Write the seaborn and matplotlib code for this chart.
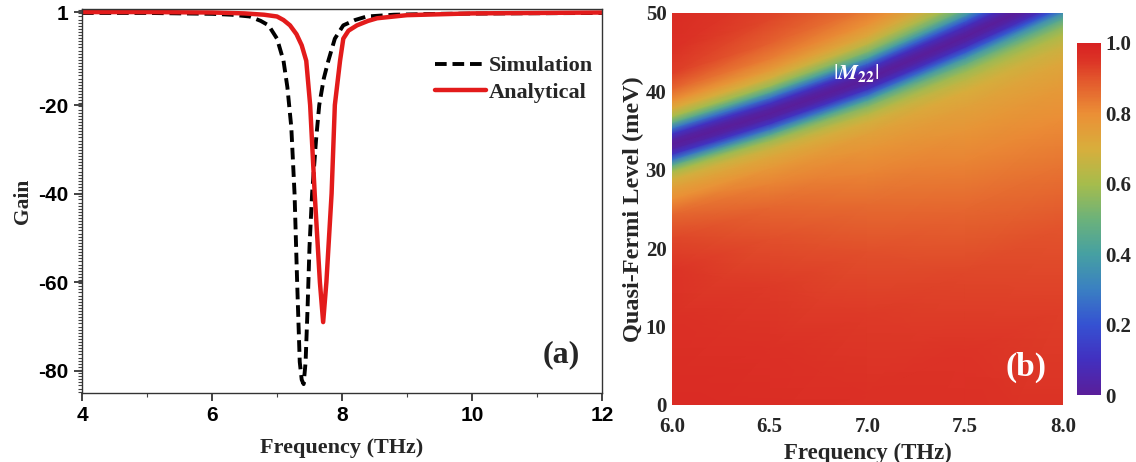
import numpy as np
import matplotlib
matplotlib.use('Agg')
import matplotlib.pyplot as plt
import seaborn as sns
import pandas as pd
from matplotlib.colors import LinearSegmentedColormap
from matplotlib.ticker import MultipleLocator
from matplotlib.lines import Line2D

# ---------------- data : panel (a) ----------------
sim_freq = [4.0, 5.0, 6.0, 6.3, 6.58, 6.75, 6.87, 7.0, 7.1, 7.16, 7.22, 7.27, 7.31, 7.35,
            7.38, 7.41, 7.44, 7.47, 7.5, 7.54, 7.6, 7.65, 7.72, 7.79, 7.89, 8.02, 8.2,
            8.38, 8.8, 9.5, 10.5, 12.0]
sim_gain = [0.8, 0.8, 0.6, 0.4, 0.0, -1.0, -2.0, -5.0, -10.0, -16.0, -25.0, -40.0, -60.0, -78.0,
            -82.0, -83.0, -78.0, -66.0, -52.0, -40.0, -28.0, -20.0, -14.0, -10.0, -5.0, -2.0, -0.8,
            0.0, 0.4, 0.6, 0.7, 0.8]
ana_freq = [4.0, 5.0, 6.0, 6.5, 6.8, 7.0, 7.1, 7.2, 7.3, 7.38, 7.45, 7.51, 7.58, 7.66, 7.71,
            7.76, 7.84, 7.89, 7.97, 8.02, 8.1, 8.23, 8.4, 8.54, 9.0, 10.0, 12.0]
ana_gain = [1.0, 1.0, 0.9, 0.7, 0.4, 0.0, -0.8, -2.0, -4.0, -6.5, -10.0, -20.0, -40.0, -60.0, -69.0,
            -60.0, -40.0, -20.0, -10.0, -5.0, -3.2, -2.0, -1.0, -0.4, 0.3, 0.7, 0.9]
series_names = ['Simulation', 'Analytical']
x_ticks_a = [4, 6, 8, 10, 12]
y_ticks_a = [1, -20, -40, -60, -80]

# ---------------- data : panel (b) ----------------
heat_freq = [6.0, 6.5, 7.0, 7.5, 8.0]            # THz (columns)
band_center = [33.3, 37.2, 41.6, 47.0, 52.8]     # meV, centre of the |M22| minimum
band_offset = [-60, -40, -30, -22, -16, -12, -9, -7, -5.5, -4.5, -3.5, -2.7, -2.0, -1.3, -0.6, 0,
               0.6, 1.3, 2.0, 2.7, 3.5, 4.5, 5.5, 7, 9, 12, 16, 25]   # meV from band centre
m22_values = [
    [0.98, 0.98, 0.98, 0.98, 0.97],
    [0.98, 0.97, 0.96, 0.95, 0.93],
    [0.97, 0.96, 0.94, 0.92, 0.90],
    [0.96, 0.94, 0.91, 0.87, 0.84],
    [0.95, 0.91, 0.86, 0.82, 0.80],
    [0.92, 0.87, 0.82, 0.78, 0.76],
    [0.87, 0.82, 0.78, 0.74, 0.72],
    [0.80, 0.77, 0.74, 0.70, 0.67],
    [0.74, 0.72, 0.69, 0.64, 0.61],
    [0.69, 0.67, 0.63, 0.58, 0.55],
    [0.60, 0.58, 0.54, 0.48, 0.44],
    [0.46, 0.44, 0.41, 0.36, 0.33],
    [0.28, 0.27, 0.25, 0.22, 0.20],
    [0.11, 0.11, 0.10, 0.09, 0.08],
    [0.03, 0.03, 0.03, 0.03, 0.03],
    [0.00, 0.00, 0.00, 0.00, 0.00],
    [0.03, 0.03, 0.03, 0.03, 0.03],
    [0.11, 0.11, 0.10, 0.09, 0.08],
    [0.28, 0.27, 0.25, 0.22, 0.20],
    [0.46, 0.44, 0.41, 0.36, 0.33],
    [0.60, 0.58, 0.54, 0.49, 0.45],
    [0.71, 0.69, 0.65, 0.59, 0.55],
    [0.79, 0.76, 0.72, 0.66, 0.62],
    [0.87, 0.83, 0.79, 0.74, 0.71],
    [0.93, 0.88, 0.84, 0.80, 0.77],
    [0.96, 0.92, 0.89, 0.86, 0.84],
    [0.97, 0.95, 0.93, 0.90, 0.88],
    [0.98, 0.97, 0.96, 0.94, 0.92],
]
x_ticks_b = [6.0, 6.5, 7.0, 7.5, 8.0]
y_ticks_b = [0, 10, 20, 30, 40, 50]
cbar_ticks = [0, 0.2, 0.4, 0.6, 0.8, 1.0]
cbar_labels = ['0', '0.2', '0.4', '0.6', '0.8', '1.0']

# ---------------- style ----------------
sns.set_style('ticks')
plt.rcParams['font.family'] = ['Liberation Serif', 'DejaVu Serif']
plt.rcParams['mathtext.fontset'] = 'stix'
plt.rcParams['axes.unicode_minus'] = False
SERIF = ['Liberation Serif', 'DejaVu Serif']
SANS = ['Liberation Sans', 'DejaVu Sans']

fig = plt.figure(figsize=(11.36, 4.62), dpi=100)
fig.patch.set_facecolor('white')

# ---------------- panel (a) ----------------
ax = fig.add_axes([0.0722, 0.1494, 0.4577, 0.8312])
df_sim = pd.DataFrame({'f': sim_freq, 'g': sim_gain})
df_ana = pd.DataFrame({'f': ana_freq, 'g': ana_gain})
sns.lineplot(data=df_sim, x='f', y='g', ax=ax, color='black', lw=2.8,
             estimator=None, sort=False)
ax.lines[-1].set_dashes((3.0, 1.5))
sns.lineplot(data=df_ana, x='f', y='g', ax=ax, color='#e31b1b', lw=3.2,
             estimator=None, sort=False)
ax.set_xlim(4, 12)
ax.set_ylim(-85, 1.7)
ax.set_xticks(x_ticks_a)
ax.set_yticks(y_ticks_a)
ax.xaxis.set_minor_locator(MultipleLocator(1))
ax.yaxis.set_minor_locator(MultipleLocator(0.7))
ax.tick_params(axis='both', which='major', direction='out', length=6, width=1.2,
               colors='#222222', labelsize=15, top=False, right=False)
ax.tick_params(axis='both', which='minor', direction='out', length=3, width=0.8,
               colors='#444444', top=False, right=False)
for lab in ax.get_xticklabels() + ax.get_yticklabels():
    lab.set_family(SANS)
    lab.set_fontweight('bold')
    lab.set_color('black')
for s in ax.spines.values():
    s.set_linewidth(1.0)
    s.set_color('#333333')
ax.set_xlabel('Frequency (THz)', fontsize=16, fontweight='bold', family=SERIF, labelpad=9)
ax.set_ylabel('Gain', fontsize=15.5, fontweight='bold', family=SERIF, labelpad=4)
handles = [Line2D([], [], color='black', lw=2.8, dashes=(3.0, 1.5)),
           Line2D([], [], color='#e31b1b', lw=3.2)]
ax.legend(handles, series_names, loc='upper left', bbox_to_anchor=(0.64, 0.93),
          frameon=False, handlelength=2.3, handletextpad=0.15, labelspacing=0.25,
          prop={'family': SERIF, 'weight': 'bold', 'size': 16})
ax.text(11.38, -76.4, '(a)', fontsize=23, fontweight='bold', family=SERIF,
        ha='center', va='center')

# ---------------- panel (b) ----------------
colors = [(0.0, '#5a1e9a'), (0.1, '#4230c0'), (0.2, '#3552d2'), (0.3, '#3a80c2'),
          (0.4, '#46a0a2'), (0.5, '#6cb27a'), (0.6, '#a6bc4c'), (0.7, '#d8ae3c'),
          (0.8, '#eb8f36'), (0.9, '#e2552c'), (0.95, '#dc3426'), (1.0, '#d82222')]
cmap = LinearSegmentedColormap.from_list('m22', colors)

axb = fig.add_axes([0.5915, 0.1234, 0.3442, 0.8485])
F = np.tile(np.asarray(heat_freq), (len(band_offset), 1))
E = np.asarray(band_center)[None, :] + np.asarray(band_offset)[:, None]
Z = np.asarray(m22_values)
mesh = axb.pcolormesh(F, E, Z, shading='gouraud', cmap=cmap, vmin=0, vmax=1,
                      rasterized=True)
axb.set_xlim(6.0, 8.0)
axb.set_ylim(0, 50)
axb.set_xticks(x_ticks_b)
axb.set_xticklabels([f'{v:.1f}' for v in x_ticks_b])
axb.set_yticks(y_ticks_b)
axb.set_yticklabels([str(v) for v in y_ticks_b])
axb.tick_params(axis='y', length=0, pad=4, labelsize=15)
axb.tick_params(axis='x', length=0, pad=9, labelsize=15)
for lab in axb.get_xticklabels() + axb.get_yticklabels():
    lab.set_family(SERIF)
    lab.set_fontweight('bold')
for s in axb.spines.values():
    s.set_visible(False)
axb.set_xlabel('Frequency (THz)', fontsize=16.5, fontweight='bold', family=SERIF, labelpad=4)
axb.set_ylabel('Quasi-Fermi Level (meV)', fontsize=17.5, fontweight='bold', family=SERIF,
               labelpad=1)
axb.text(6.94, 42.4, r'$|\mathbfit{M}_{\mathbf{22}}|$', color='white', fontsize=16,
         ha='center', va='center')
axb.text(7.81, 4.85, '(b)', color='white', fontsize=24, fontweight='bold', family=SERIF,
         ha='center', va='center')

cax = fig.add_axes([0.948, 0.145, 0.0211, 0.762])
cb = fig.colorbar(mesh, cax=cax, ticks=cbar_ticks)
cb.set_ticklabels(cbar_labels)
cb.outline.set_visible(False)
cax.tick_params(length=0, pad=3, labelsize=15)
for lab in cax.get_yticklabels():
    lab.set_family(SERIF)
    lab.set_fontweight('bold')

fig.savefig('out.png', dpi=100, facecolor='white')
